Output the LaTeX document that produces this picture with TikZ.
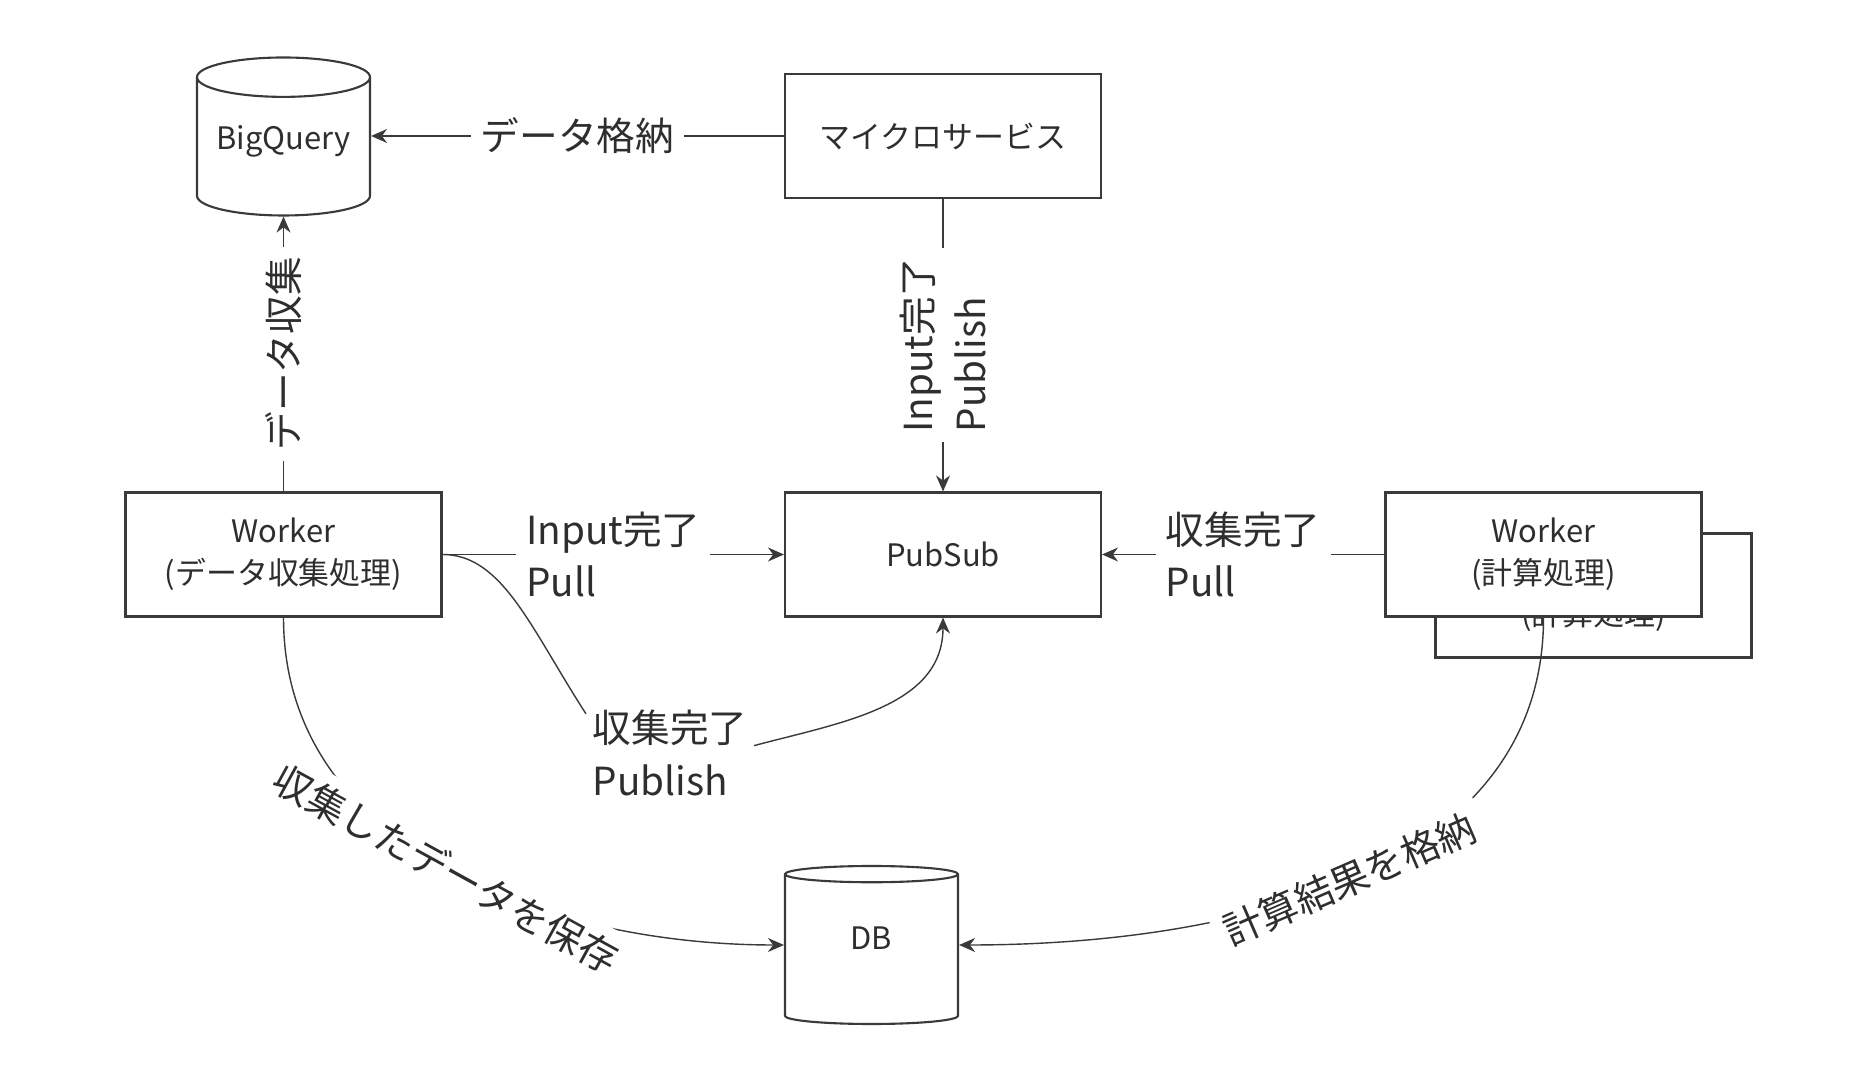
\documentclass[tikz,border=0pt]{standalone}
\usepackage{fontspec}
\setmainfont{Noto Sans CJK JP}
\usetikzlibrary{arrows.meta,shapes.geometric}
\definecolor{linegray}{HTML}{3A3A3A}
\definecolor{textgray}{HTML}{2E2E2E}
\newcommand\boxfont{\fontsize{8.8}{12}\selectfont}
\newcommand\tagfont{\fontsize{11}{15}\selectfont}
\tikzset{
  svcbox/.style={rectangle, draw=linegray, fill=white, line width=0.6pt, minimum width=3.16cm, minimum height=1.24cm, align=center, font=\boxfont, text=textgray},
  store/.style={cylinder, shape border rotate=90, aspect=0.25, draw=linegray, fill=white, line width=0.6pt, minimum width=1.73cm, minimum height=1.58cm, text height=0.22cm, text depth=0.26cm, anchor=shape center, font=\boxfont, text=textgray},
  edgelabel/.style={fill=white, inner sep=1mm, align=left, font=\tagfont, text=textgray},
  arrow/.style={-{Stealth[length=1.6mm, width=1.4mm]}, line width=0.4pt, draw=linegray},
  plainline/.style={line width=0.4pt, draw=linegray}
}
\begin{document}
\begin{tikzpicture}
  \useasboundingbox (0,0) rectangle (18.74,10.74);
  \node[store] (bq) at (2.835,9.375) {BigQuery};
  \node[svcbox] (ms) at (9.43,9.38) {マイクロサービス};
  \node[svcbox] (wc) at (2.835,5.195) {Worker\\(データ収集処理)};
  \node[svcbox] (ps) at (9.43,5.195) {PubSub};
  \node[svcbox] (wkback) at (15.935,4.785) {Worker\\(計算処理)};
  \node[svcbox] (wk) at (15.435,5.195) {Worker\\(計算処理)};
  \node[store] (db) at (8.715,1.29) {DB};
  \node[edgelabel, inner sep=0.6mm] (pub) at (6.70,3.21) {収集完了\\Publish};

  \draw[arrow] (ms) -- node[edgelabel] {データ格納} (ms -| bq.east);
  \draw[arrow] (wc) -- node[edgelabel, rotate=90] {データ収集} (bq);
  \draw[arrow] (ms) -- node[edgelabel, rotate=90] {Input完了\\Publish} (ps);
  \draw[arrow] (wc) -- node[edgelabel] {Input完了\\Pull} (ps);
  \draw[arrow] (wk) -- node[edgelabel] {収集完了\\Pull} (ps);
  \draw[plainline] (wc.east) .. controls +(0.6,0) and +(-0.55,0.85) .. (pub.155);
  \draw[arrow] (pub.5) to[out=15, in=-90] (ps.south);
  \draw[arrow] (wc.south) to[out=-90, in=180] node[edgelabel, sloped] {収集したデータを保存} (db.shape center -| db.west);
  \draw[arrow] (wk.south) to[out=-90, in=0] node[edgelabel, sloped] {計算結果を格納} (db.shape center -| db.east);
\end{tikzpicture}
\end{document}
